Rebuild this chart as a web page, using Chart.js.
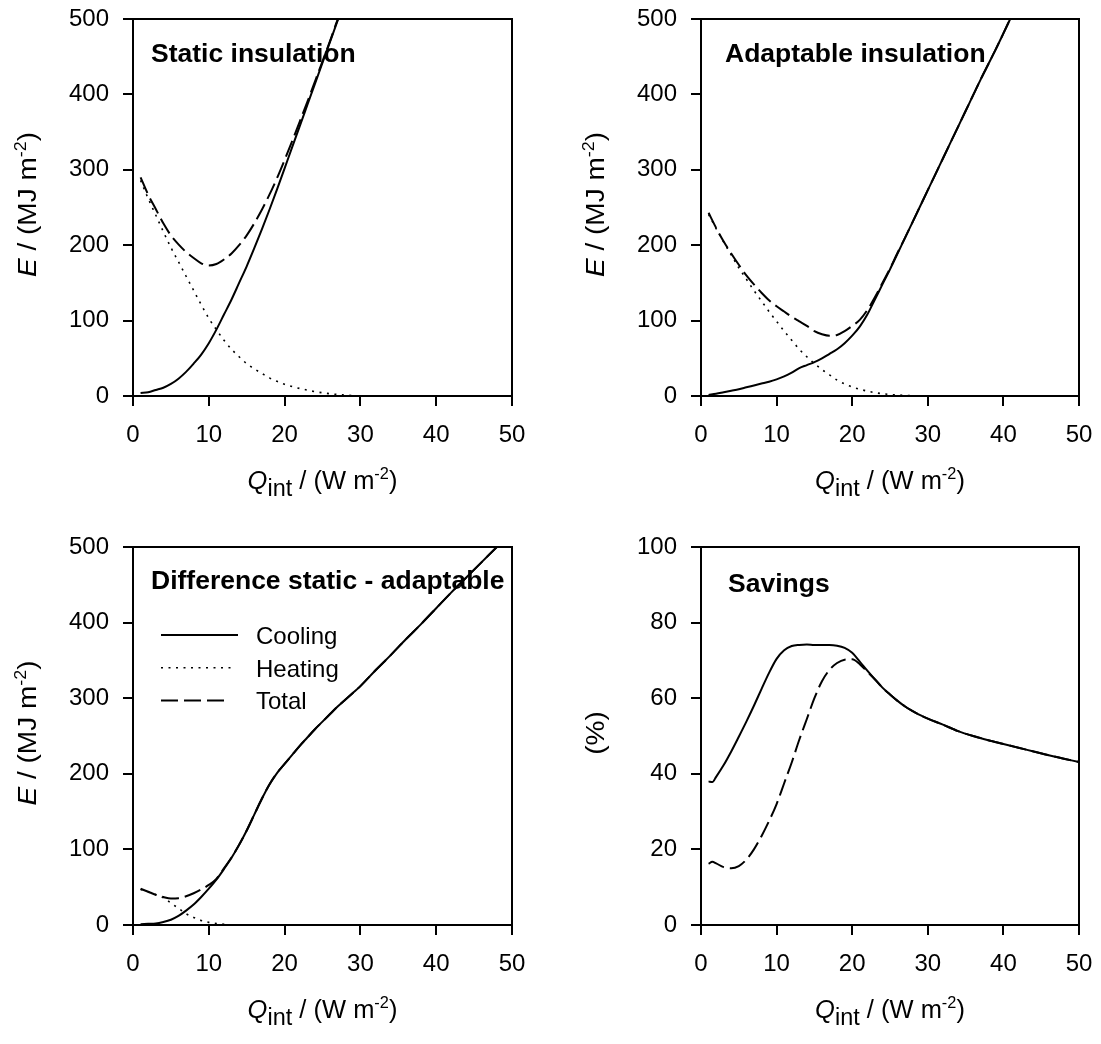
<!DOCTYPE html>
<html><head><meta charset="utf-8">
<script src="https://cdn.jsdelivr.net/npm/chart.js@4/dist/chart.umd.min.js"></script>
<style>
html,body{margin:0;padding:0;background:#fff;}
#wrap{position:relative;width:1101px;height:1044px;overflow:hidden;}
canvas{position:absolute;}
</style></head><body><div id="wrap">
<canvas id="c1" width="550" height="522" style="left:0;top:0"></canvas>
<canvas id="c2" width="550" height="522" style="left:551px;top:0"></canvas>
<canvas id="c3" width="550" height="522" style="left:0;top:522px"></canvas>
<canvas id="c4" width="550" height="522" style="left:551px;top:522px"></canvas>
</div>
<script>
// ---------- data ----------
const seriesNames = ['Cooling', 'Heating', 'Total'];
const panelTitles = ['Static insulation', 'Adaptable insulation', 'Difference static - adaptable', 'Savings'];
const xTicks = [0, 10, 20, 30, 40, 50];
const yTicksE = [0, 100, 200, 300, 400, 500];
const yTicksPct = [0, 20, 40, 60, 80, 100];

// Panel 1 – static insulation (MJ m-2)
const p1CoolQ = [1,2,3,4,5,6,7,8,9,10,11,12,13,14,15,16,17,18,19,20,21,22,23,24,25,26,27,27.07];
const p1CoolE = [4,5,8,11,16,23,32,43,55,70,88,108,128,150,172,196,221,247,274,302,330,358,386,414,442,470,498,500];
const p1HeatQ = [1,2,3,4,5,6,7,8,9,10,11,12,13,14,15,16,17,18,19,20,21,22,23,24,25,26,27,28,29,29.5];
const p1HeatE = [286,262,240,218,197,178,159,140,121,103,88,74,62,52,43,36,30,24,19.5,15.5,12.5,10,7.8,5.8,4.3,3,2,1.3,0.6,0.3];
const p1TotQ = [1,2,3,4,5,6,7,8,9,10,11,12,13,14,15,16,17,18,19,20,21,22,23,24,25,26,27,27.05];
const p1TotE = [290,267,248,229,213,201,191,183,176,173,175,181,189,200,213,229,247,267,289,313,338,364,390,417,444,471,499,500];

// Panel 2 – adaptable insulation (MJ m-2)
const p2CoolQ = [1,2,3,4,5,6,7,8,9,10,11,12,13,14,15,16,17,18,19,20,21,22,23,24,25,26,27,28,29,30,31,32,33,34,35,36,37,38,39,40,40.9];
const p2CoolE = [1.5,3,5,7,9,11.5,14,16.5,19,22,26,31,37,41,45,50,56,62,70,80,92,108,128,148,168,189,210,231,252,273,294,315,336,357,378,399,420,440,460,481,500];
const p2HeatQ = [1,2,3,4,5,6,7,8,9,10,11,12,13,14,15,16,17,18,19,20,21,22,23,24,25,26,27,28,29,50];
const p2HeatE = [241,222,204,187,170,155,140,126,112,99,86,74,62,52,43,35,28,21,16,12,9,6.5,4.5,3,2,1.3,0.8,0.4,0.1,0];
const p2TotQ = [1,2,3,4,5,6,7,8,9,10,11,12,13,14,15,16,17,18,19,20,21,22,23,24,25,26,27,28,29,30,31,32,33,34,35,36,37,38,39,40,40.9];
const p2TotE = [243,223,205,189,174,160,148,137,127,119,112,105,99,93,86,82,80,81,86,93,101,114,131,150,169,190,210,231,252,273,294,315,336,357,378,399,420,440,460,481,500];

// Panel 3 – difference static - adaptable (MJ m-2)
const p3CoolQ = [1,2,3,4,5,6,7,8,9,10,11,12,13,14,15,16,17,18,19,20,21,22,23,24,25,26,27,28,29,30,32,34,36,38,40,42,44,46,48];
const p3CoolE = [1,1.5,2,4,7,12,19,27,37,48,60,74,89,106,125,146,167,186,201,213,225,237,248,259,269,279,289,298,307,316,337,357,378,398,419,440,460,480,500];
const p3HeatQ = [1,2,3,4,5,6,7,8,9,10,11,12,13,14,29.5];
const p3HeatE = [47,44,40,36,29,22,15,10,6,3.5,2,1,0.3,0,0];
const p3TotQ = [1,2,3,4,5,6,7,8,9,10,11,12,13,14,15,16,17,18,19,20,21,22,23,24,25,26,27,28,29,30,32,34,36,38,40,42,44,46,48];
const p3TotE = [48,44,40,37,35,35.5,38,42,47,53,61,75,89.3,106,125,146,167,186,201,213,225,237,248,259,269,279,289,298,307,316,337,357,378,398,419,440,460,480,500];

// Panel 4 – savings (%)
const p4CoolQ = [1,1.5,2,3,4,5,6,7,8,9,10,11,12,13,14,15,16,17,18,19,20,21,22,23,24,25,26,27,28,29,30,32,34,36,38,40,42,44,46,48,50];
const p4CoolPct = [38,37.8,39.2,42.3,45.9,49.8,53.8,58,62.4,66.7,70.4,72.7,73.8,74.1,74.2,74.1,74.1,74.1,73.9,73.3,72,69.7,67.3,65,62.8,61,59.3,57.8,56.6,55.5,54.6,53,51.3,50,48.9,47.9,46.9,45.9,44.9,44,43.1];
const p4TotQ = [1,1.5,2,3,4,5,6,7,8,9,10,11,12,13,14,15,16,17,18,19,20,21,22,23,24,25,26,27,28,29,30,32,34,36,38,40,42,44,46,48,50];
const p4TotPct = [16.2,16.7,16.3,15.3,15,15.6,17.3,20,23.5,27.5,32,37.5,43,49,54.5,60,64.5,67.5,69.3,70.2,70.3,69,67,65,62.8,61,59.3,57.8,56.6,55.5,54.6,53,51.3,50,48.9,47.9,46.9,45.9,44.9,44,43.1];

// ---------- styling ----------
const FF = '"Liberation Sans", Arial, Helvetica, sans-serif';
const STY = {
  Cooling: {borderDash: [], borderWidth: 2, legendLen: 77},
  Heating: {borderDash: [2, 5.5], borderWidth: 1.6, legendLen: 72},
  Total:   {borderDash: [17, 6], borderWidth: 2, legendLen: 63}
};
function pts(xs, ys) { return xs.map((x, i) => ({x: x, y: ys[i]})); }
function ds(name, xs, ys) {
  return {
    label: name, data: pts(xs, ys), borderColor: '#000', backgroundColor: '#000',
    pointRadius: 0, fill: false, cubicInterpolationMode: 'monotone', borderCapStyle: 'butt',
    borderDash: STY[name].borderDash, borderWidth: STY[name].borderWidth
  };
}

// draws mixed-style text centred on cx; sx stretches along the text direction
function drawRich(ctx, parts, cx, y, sx) {
  sx = sx || 1;
  let w = 0;
  parts.forEach(p => { ctx.font = p.f; p.w = ctx.measureText(p.t).width; w += p.w; });
  ctx.save();
  ctx.translate(cx, y);
  ctx.scale(sx, 1);
  let x = -w / 2;
  ctx.textAlign = 'left'; ctx.textBaseline = 'alphabetic';
  parts.forEach(p => { ctx.font = p.f; ctx.fillText(p.t, x, p.dy || 0); x += p.w; });
  ctx.restore();
}
const F = sz => sz + 'px ' + FF;
const FI = sz => 'italic ' + sz + 'px ' + FF;
const xTitleParts = () => [
  {t: 'Q', f: FI(25)}, {t: 'int', f: F(23), dy: 7}, {t: ' / (W m', f: F(25)},
  {t: '-2', f: F(16), dy: -10}, {t: ')', f: F(25)}
];
const yTitleE = () => [
  {t: 'E', f: FI(25)}, {t: ' / (MJ m', f: F(25)}, {t: '-2', f: F(16), dy: -10}, {t: ')', f: F(25)}
];
const yTitlePct = () => [{t: '(%)', f: F(25)}];

const decor = {
  id: 'decor',
  afterDraw(chart, args, o) {
    const ctx = chart.ctx, a = chart.chartArea;
    ctx.save();
    ctx.strokeStyle = '#000'; ctx.fillStyle = '#000'; ctx.lineWidth = 2; ctx.lineCap = 'square';
    ctx.beginPath();
    ctx.moveTo(a.left, a.top); ctx.lineTo(a.right, a.top); ctx.lineTo(a.right, a.bottom);
    ctx.stroke();
    // panel title
    ctx.font = 'bold 26.5px ' + FF; ctx.textAlign = 'left'; ctx.textBaseline = 'alphabetic';
    ctx.fillText(o.title, a.left + o.tdx, a.top + o.tdy);
    // x title
    drawRich(ctx, xTitleParts(), (a.left + a.right) / 2, a.bottom + 93, 1.02);
    // legend
    if (o.legend) {
      chart.data.datasets.forEach((d, i) => {
        const y = a.top + 88 + i * 32.7;
        ctx.save();
        ctx.lineWidth = d.borderWidth; ctx.setLineDash(d.borderDash); ctx.lineCap = 'butt';
        ctx.beginPath(); ctx.moveTo(a.left + 28, y); ctx.lineTo(a.left + 28 + STY[d.label].legendLen, y); ctx.stroke();
        ctx.restore();
        ctx.font = F(24); ctx.textAlign = 'left'; ctx.textBaseline = 'alphabetic';
        ctx.fillText(d.label, a.left + 123, y + 9);
      });
    }
    // y title
    ctx.translate(a.left - 97, (a.top + a.bottom) / 2 - 3);
    ctx.rotate(-Math.PI / 2);
    drawRich(ctx, o.yParts, 0, 0, 1.12);
    ctx.restore();
  }
};

function makeChart(id, datasets, yMax, yTickVals, area, opts) {
  const W = 550, H = 522, yW = 100, xH = 100;
  return new Chart(document.getElementById(id), {
    type: 'line',
    data: {datasets: datasets},
    options: {
      responsive: false, animation: false, events: [], devicePixelRatio: 1,
      layout: {padding: {left: area.L - yW, right: W - area.R, top: area.T, bottom: H - area.B - xH}},
      plugins: {legend: {display: false}, tooltip: {enabled: false}, decor: opts},
      scales: {
        x: {
          type: 'linear', min: 0, max: 50,
          afterFit: s => { s.height = xH; s.paddingLeft = 0; s.paddingRight = 0; },
          afterBuildTicks: s => { s.ticks = xTicks.map(v => ({value: v})); },
          border: {display: true, color: '#000', width: 2},
          grid: {drawOnChartArea: false, drawTicks: true, tickLength: 10, color: '#000', lineWidth: 2},
          ticks: {color: '#000', font: {family: FF, size: 24}, padding: 15, maxRotation: 0}
        },
        y: {
          type: 'linear', min: 0, max: yMax,
          afterFit: s => { s.width = yW; s.paddingTop = 0; s.paddingBottom = 0; },
          afterBuildTicks: s => { s.ticks = yTickVals.map(v => ({value: v})); },
          border: {display: true, color: '#000', width: 2},
          grid: {drawOnChartArea: false, drawTicks: true, tickLength: 10, color: '#000', lineWidth: 2},
          ticks: {color: '#000', font: {family: FF, size: 24}, padding: 14}
        }
      }
    },
    plugins: [decor]
  });
}

makeChart('c1', [ds('Cooling', p1CoolQ, p1CoolE), ds('Heating', p1HeatQ, p1HeatE), ds('Total', p1TotQ, p1TotE)],
  500, yTicksE, {L: 133, R: 512, T: 19, B: 396},
  {title: panelTitles[0], tdx: 18, tdy: 43, yParts: yTitleE()});
makeChart('c2', [ds('Cooling', p2CoolQ, p2CoolE), ds('Heating', p2HeatQ, p2HeatE), ds('Total', p2TotQ, p2TotE)],
  500, yTicksE, {L: 150, R: 528, T: 19, B: 396},
  {title: panelTitles[1], tdx: 24, tdy: 43, yParts: yTitleE()});
makeChart('c3', [ds('Cooling', p3CoolQ, p3CoolE), ds('Heating', p3HeatQ, p3HeatE), ds('Total', p3TotQ, p3TotE)],
  500, yTicksE, {L: 133, R: 512, T: 25, B: 403},
  {title: panelTitles[2], tdx: 18, tdy: 42, yParts: yTitleE(), legend: true});
makeChart('c4', [ds('Cooling', p4CoolQ, p4CoolPct), ds('Total', p4TotQ, p4TotPct)],
  100, yTicksPct, {L: 150, R: 528, T: 25, B: 403},
  {title: panelTitles[3], tdx: 27, tdy: 45, yParts: yTitlePct()});
</script>
</body></html>
